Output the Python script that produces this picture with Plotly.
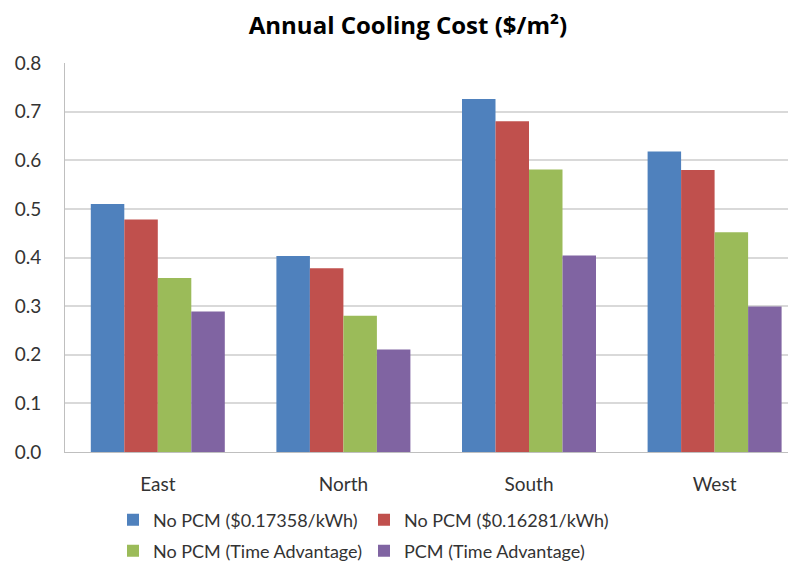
import plotly.graph_objects as go

categories = ["East", "North", "South", "West"]
series_names = [
    "No PCM ($0.17358/kWh)",
    "No PCM ($0.16281/kWh)",
    "No PCM (Time Advantage)",
    "PCM (Time Advantage)",
]
no_pcm_a = [0.510, 0.403, 0.726, 0.618]
no_pcm_b = [0.478, 0.378, 0.680, 0.580]
no_pcm_time = [0.358, 0.280, 0.581, 0.452]
pcm_time = [0.289, 0.211, 0.404, 0.299]
colors = ["#4F81BD", "#C0504D", "#9BBB59", "#8064A2"]
y_ticks = [0, 0.1, 0.2, 0.3, 0.4, 0.5, 0.6, 0.7, 0.8]
y_tick_labels = ["0.0", "0.1", "0.2", "0.3", "0.4", "0.5", "0.6", "0.7", "0.8"]

series_values = [no_pcm_a, no_pcm_b, no_pcm_time, pcm_time]
legend_ids = ["legend", "legend2", "legend3", "legend4"]

fig = go.Figure()
for name, vals, col, lg in zip(series_names, series_values, colors, legend_ids):
    fig.add_trace(go.Bar(
        x=categories, y=vals, name=name, legend=lg,
        marker=dict(color=col, line=dict(width=0)),
    ))

# page body has an 8px margin; work in screen pixels and subtract it
OFF = 8
W, H = 796 - OFF, 571 - OFF
ml, mt = 65 - OFF, 63 - OFF
plot_bottom = 452 - OFF
mr, mb = 0, H - plot_bottom
pw = W - ml - mr
ph = H - mt - mb

def px_to_paper_x(px):
    return (px - OFF - ml) / pw

def px_to_paper_y(py):
    return 1 - (py - OFF - mt) / ph

def legend_at(px, py):
    return dict(
        orientation="h", x=px_to_paper_x(px), xanchor="left",
        y=px_to_paper_y(py), yanchor="middle",
        font=dict(size=18, color="#333333"), itemwidth=30,
        bgcolor="rgba(0,0,0,0)",
    )

font_family = "Lato, Open Sans, sans-serif"
fig.update_layout(
    width=W, height=H,
    margin=dict(l=ml, r=mr, t=mt, b=mb, pad=0, autoexpand=False),
    paper_bgcolor="white", plot_bgcolor="white",
    barmode="group", bargap=0.278, bargroupgap=0,
    font=dict(family=font_family, size=19, color="#333333"),
    title=dict(
        text="<b>Annual Cooling Cost ($/m²)</b>",
        x=px_to_paper_x(408), xref="paper", xanchor="center",
        y=1 - (25.5 - OFF) / H, yref="container", yanchor="middle",
        font=dict(family="Open Sans, sans-serif", size=24, color="#000000"),
    ),
    xaxis=dict(
        range=[-0.5, -0.5 + pw / 185.6], automargin=False,
        showgrid=False, showline=True, linecolor="#BFBFBF", linewidth=1,
        ticks="", ticklabelstandoff=15,
        tickfont=dict(size=19, color="#333333"),
    ),
    yaxis=dict(
        range=[0, 0.8], tickvals=y_ticks, ticktext=y_tick_labels,
        automargin=False,
        showgrid=True, gridcolor="#D9D9D9", gridwidth=1.5,
        showline=True, linecolor="#BFBFBF", linewidth=1,
        ticks="", ticklen=0, zeroline=False, ticklabelstandoff=19,
        tickfont=dict(size=19, color="#333333"),
    ),
    legend=legend_at(113, 520),
    legend2=legend_at(364, 520),
    legend3=legend_at(113, 551),
    legend4=legend_at(364, 551),
    showlegend=True,
)

fig.write_html("out.html")
